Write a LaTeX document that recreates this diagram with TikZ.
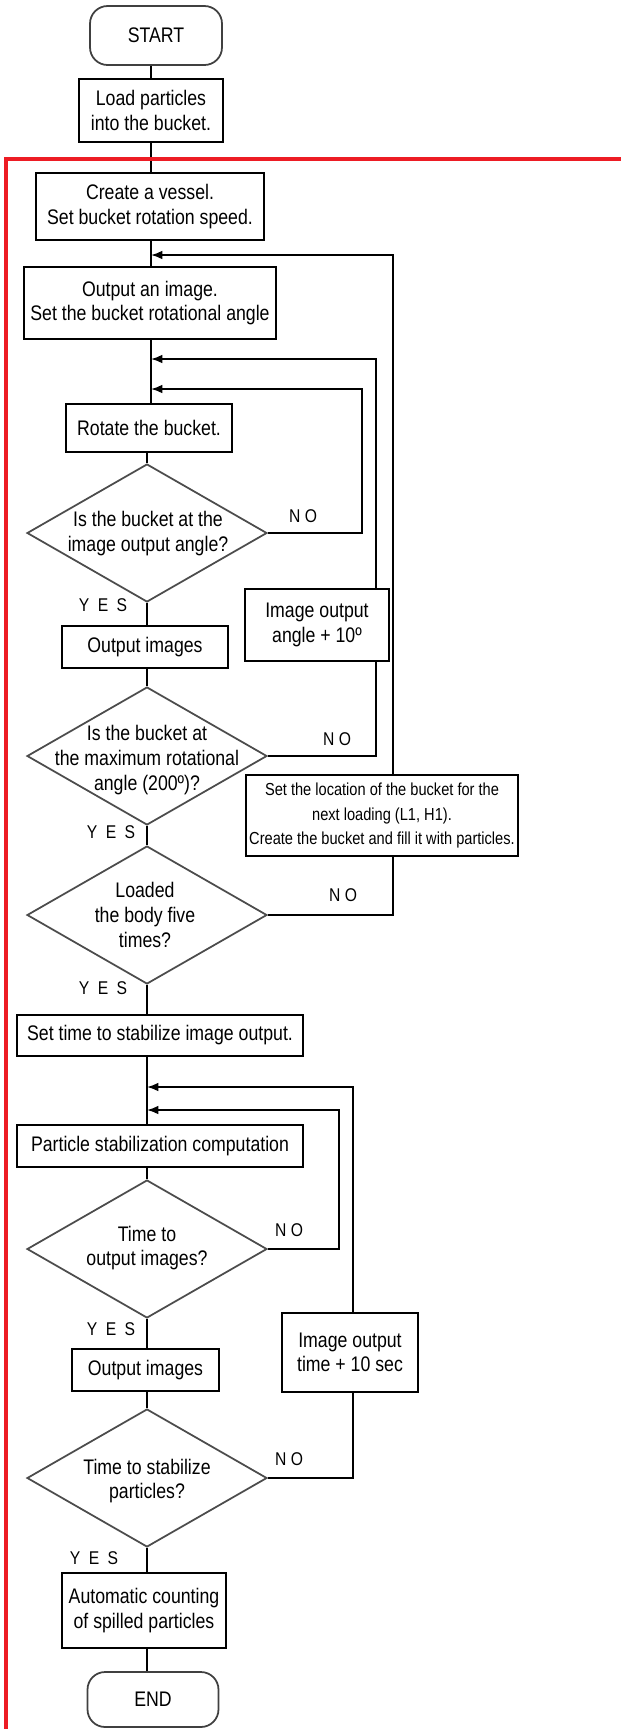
\documentclass[tikz,border=0pt]{standalone}
\usepackage{fontspec}
\setmainfont{Liberation Sans}[FakeStretch=0.84]
\newfontfamily\ynfont{Liberation Sans}[FakeStretch=0.85]
\usetikzlibrary{arrows.meta,shapes.geometric,backgrounds}
\definecolor{framered}{RGB}{237,28,36}

\begin{document}
\begin{tikzpicture}[x=0.02cm, y=-0.02cm,
  every node/.style={font=\fontsize{12}{14}\selectfont},
  box/.style={draw, line width=1.1pt, fill=white, align=center, inner sep=1pt},
  term/.style={draw=black!75, line width=1pt, fill=white, rounded corners=10pt, align=center},
  decision/.style={diamond, draw=black!70, line width=1pt, fill=white, minimum width=4.8cm, minimum height=2.76cm},
  yn/.style={font=\ynfont\fontsize{10.5}{12}\selectfont},
  link/.style={line width=1pt},
  back/.style={line width=1pt, -{Latex[length=6.5pt,width=5pt]}}]
\useasboundingbox (0,0) rectangle (621,1729);

% red frame round the simulation part
\draw[framered, line width=2pt] (6,1729) -- (6,159) -- (621,159);

% main column
\node[term, minimum width=2.64cm, minimum height=1.18cm] (start) at (156,35.5) {START};
\node[box, minimum width=2.88cm, minimum height=1.26cm] (load) at (151,110.5) {Load particles\\into the bucket.};
\node[box, minimum width=4.56cm, minimum height=1.34cm] (vessel) at (150,206.5) {Create a vessel.\\Set bucket rotation speed.};
\node[box, minimum width=5.04cm, minimum height=1.44cm] (outimg) at (150,303) {Output an image.\\Set the bucket rotational angle};
\node[box, minimum width=3.32cm, minimum height=0.96cm] (rotate) at (149,428) {Rotate the bucket.};
\node[decision] (dec1) at (147,533) {};
\node[align=center] (dec1t) at (148,533.5) {Is the bucket at the\\image output angle?};
\node[box, minimum width=3.32cm, minimum height=0.84cm] (outimA) at (145,647) {Output images};
\node[decision] (dec2) at (147,756) {};
\node[align=center] (dec2t) at (147,760) {Is the bucket at\\the maximum rotational\\angle (200º)?};
\node[decision] (dec3) at (147,915) {};
\node[align=center] (dec3t) at (145,915) {Loaded\\the body five\\times?};
\node[box, minimum width=5.72cm, minimum height=0.82cm] (settime) at (160,1035.5) {Set time to stabilize image output.};
\node[box, minimum width=5.72cm, minimum height=0.84cm] (psc) at (160,1146) {Particle stabilization computation};
\node[decision] (dec4) at (147,1249) {};
\node[align=center] (dec4t) at (147,1248) {Time to\\output images?};
\node[box, minimum width=2.94cm, minimum height=0.84cm] (outimB) at (145.5,1370) {Output images};
\node[decision] (dec5) at (147,1478) {};
\node[align=center] (dec5t) at (147,1481) {Time to stabilize\\particles?};
\node[box, minimum width=3.28cm, minimum height=1.5cm] (count) at (144,1610.5) {Automatic counting\\of spilled particles};
\node[term, minimum width=2.62cm, minimum height=1.1cm] (stop) at (153,1699.5) {END};

% side boxes
\node[box, minimum width=2.88cm, minimum height=1.44cm] (angle) at (317,625) {Image output\\angle + 10º};
\node[box, minimum width=5.44cm, minimum height=1.62cm, font=\fontsize{9.9}{14}\selectfont] (setloc) at (382,815.5) {Set the location of the bucket for the\\next loading (L1, H1).\\Create the bucket and fill it with particles.};
\node[box, minimum width=2.72cm, minimum height=1.58cm] (timeinc) at (350,1352.5) {Image output\\time + 10 sec};

% yes / no
\node[yn] (no1) at (303,516) {N\hspace{2.5pt}O};
\node[yn] (yes1) at (103,605) {Y\hspace{4.8pt}E\hspace{4.8pt}S};
\node[yn] (no2) at (337,739) {N\hspace{2.5pt}O};
\node[yn] (yes2) at (111,832) {Y\hspace{4.8pt}E\hspace{4.8pt}S};
\node[yn] (no3) at (343,895) {N\hspace{2.5pt}O};
\node[yn] (yes3) at (103,988) {Y\hspace{4.8pt}E\hspace{4.8pt}S};
\node[yn] (no4) at (289,1230) {N\hspace{2.5pt}O};
\node[yn] (yes4) at (111,1329) {Y\hspace{4.8pt}E\hspace{4.8pt}S};
\node[yn] (no5) at (289,1459) {N\hspace{2.5pt}O};
\node[yn] (yes5) at (94,1558) {Y\hspace{4.8pt}E\hspace{4.8pt}S};

% corners of the loops
\coordinate (c1) at (362,389);
\coordinate (c2) at (376,359);
\coordinate (c3) at (393,255);
\coordinate (c4) at (339,1110);
\coordinate (c5) at (353,1087);

\begin{pgfonlayer}{background}
\draw[link] (start.south -| load.north) -- (load.north);
\draw[link] (load.south) -- (load.south |- vessel.north);
\draw[link] (load.south |- vessel.south) -- (load.south |- outimg.north);
\draw[link] (load.south |- outimg.south) -- (load.south |- rotate.north);
\draw[link] (rotate.south -| dec1.north) -- (dec1.north);
\draw[link] (dec1.south) -- (dec1.south |- outimA.north);
\draw[link] (dec1.south |- outimA.south) -- (dec2.north);
\draw[link] (dec2.south) -- (dec3.north);
\draw[link] (dec3.south) -- (dec3.south |- settime.north);
\draw[link] (dec3.south |- settime.south) -- (dec3.south |- psc.north);
\draw[link] (psc.south -| dec4.north) -- (dec4.north);
\draw[link] (dec4.south) -- (dec4.south |- outimB.north);
\draw[link] (dec4.south |- outimB.south) -- (dec5.north);
\draw[link] (dec5.south) -- (dec5.south |- count.north);
\draw[link] (dec5.south |- count.south) -- (dec5.south |- stop.north);
% NO branches back to the column
\draw[back] (dec1.east) -| (c1) -- (c1 -| load.south);
\draw[back] (dec2.east) -| (c2) -- (c2 -| load.south);
\draw[back] (dec3.east) -| (c3) -- (c3 -| load.south);
\draw[back] (dec4.east) -| (c4) -- (c4 -| dec4.north);
\draw[back] (dec5.east) -| (c5) -- (c5 -| dec4.north);
\end{pgfonlayer}
\end{tikzpicture}
\end{document}
